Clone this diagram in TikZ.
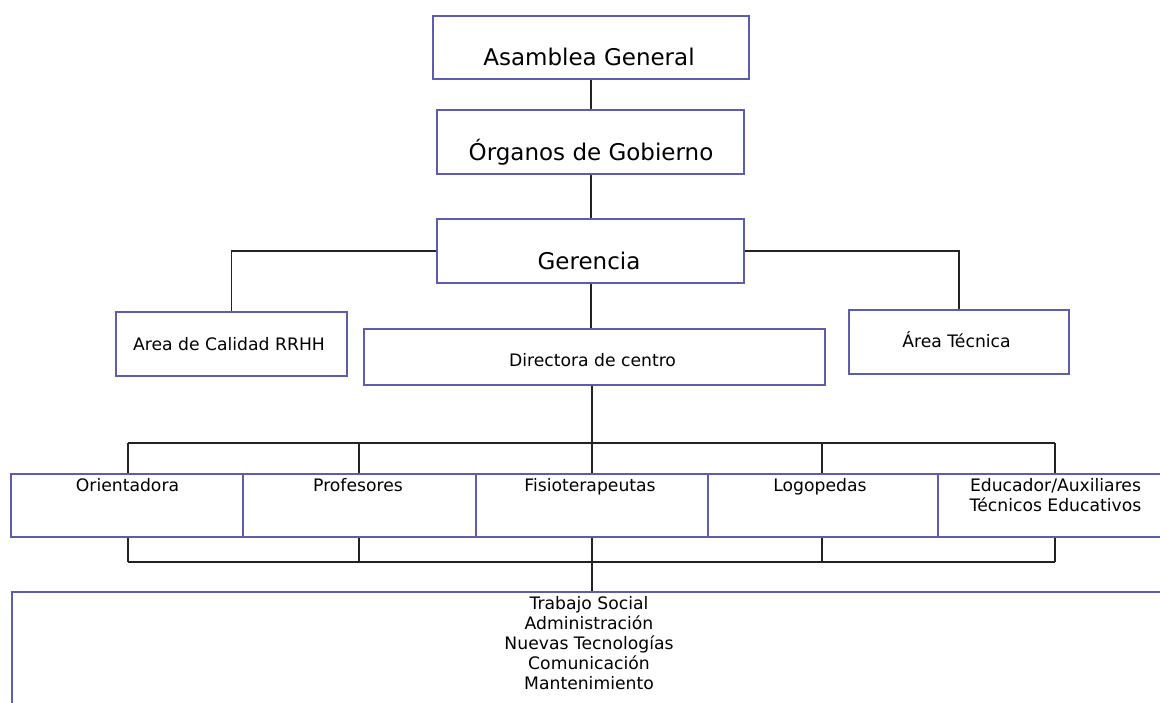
\documentclass[tikz,border=0pt]{standalone}
\usepackage{fontspec}
\setmainfont{DejaVu Sans}
\definecolor{boxc}{RGB}{92,92,176}
\definecolor{linec}{RGB}{35,35,35}
\begin{document}
\begin{tikzpicture}[x=1pt,y=-1pt,
  box/.style={draw=boxc, line width=1.8pt, fill=white, inner sep=0pt, anchor=north west},
  conn/.style={draw=linec, line width=1.8pt},
  big/.style={font=\fontsize{23}{27}\selectfont, inner sep=0pt, anchor=base},
  small/.style={font=\fontsize{17.2}{20}\selectfont, inner sep=0pt, align=center, anchor=base}]
\useasboundingbox (0,0) rectangle (1160,703);
\fill[white] (0,0) rectangle (1160,703);
\begin{scope}
\clip (0,0) rectangle (1160,703);
% boxes
\node[box, minimum width=316pt, minimum height=63pt] (ag) at (432,15) {};
\node[box, minimum width=307pt, minimum height=64pt] (og) at (436,109) {};
\node[box, minimum width=307pt, minimum height=64pt] (ger) at (436,218) {};
\node[box, minimum width=231pt, minimum height=64pt] (arc) at (115,311) {};
\node[box, minimum width=461pt, minimum height=56pt] (dir) at (363,328) {};
\node[box, minimum width=220pt, minimum height=64pt] (at) at (848,309) {};
\node[box, minimum width=232pt, minimum height=63pt] (r1) at (10,473) {};
\node[box, minimum width=233pt, minimum height=63pt] (r2) at (242,473) {};
\node[box, minimum width=232pt, minimum height=63pt] (r3) at (475,473) {};
\node[box, minimum width=230pt, minimum height=63pt] (r4) at (707,473) {};
\node[box, minimum width=230pt, minimum height=63pt] (r5) at (937,473) {};
\node[box, minimum width=1160pt, minimum height=130pt] (bot) at (11,591) {};
% texts
\node[big] (agt) at (589,65.5) {Asamblea General};
\node[big] (ogt) at (591,161) {Órganos de Gobierno};
\node[big] (gert) at (589,269.5) {Gerencia};
\node[small] (arct) at (229,350.5) {Area de Calidad RRHH};
\node[small] (dirt) at (592.5,366.5) {Directora de centro};
\node[small] (att) at (956.5,347.3) {Área Técnica};
\node[small] (r1t) at (127.5,491.7) {Orientadora};
\node[small] (r2t) at (358,491.7) {Profesores};
\node[small] (r3t) at (590,491.7) {Fisioterapeutas};
\node[small] (r4t) at (820,491.7) {Logopedas};
\node[small] (r5t) at (1055.5,511.7) {Educador/Auxiliares\\Técnicos Educativos};
\node[small] (bott) at (589,689.3) {Trabajo Social\\Administración\\Nuevas Tecnologías\\Comunicación\\Mantenimiento};
% connectors
\coordinate (c0) at (591,0);
\draw[conn] (ag.south -| c0) -- (og.north -| c0);
\draw[conn] (og.south -| c0) -- (ger.north -| c0);
\draw[conn] (ger.west) -| (arc.north);
\draw[conn] (ger.east) -| (at.north);
\coordinate (t1) at (128,443);
\coordinate (t2) at (359,443);
\coordinate (t3) at (592,443);
\coordinate (t4) at (822,443);
\coordinate (t5) at (1055,443);
\coordinate (b1) at (128,562);
\coordinate (b2) at (359,562);
\coordinate (b3) at (592,562);
\coordinate (b4) at (822,562);
\coordinate (b5) at (1055,562);
\draw[conn] (ger.south -| c0) -- (dir.north -| c0);
\draw[conn] (dir.south -| t3) -- (t3);
\draw[conn] (t1) -- (t5);
\draw[conn] (b1) -- (b5);
\foreach \i in {1,...,5} {
  \draw[conn] (t\i) -- (t\i |- r\i.north);
  \draw[conn] (r\i.south -| b\i) -- (b\i);
}
\draw[conn] (b3) -- (b3 |- bot.north);
\end{scope}
\end{tikzpicture}
\end{document}
